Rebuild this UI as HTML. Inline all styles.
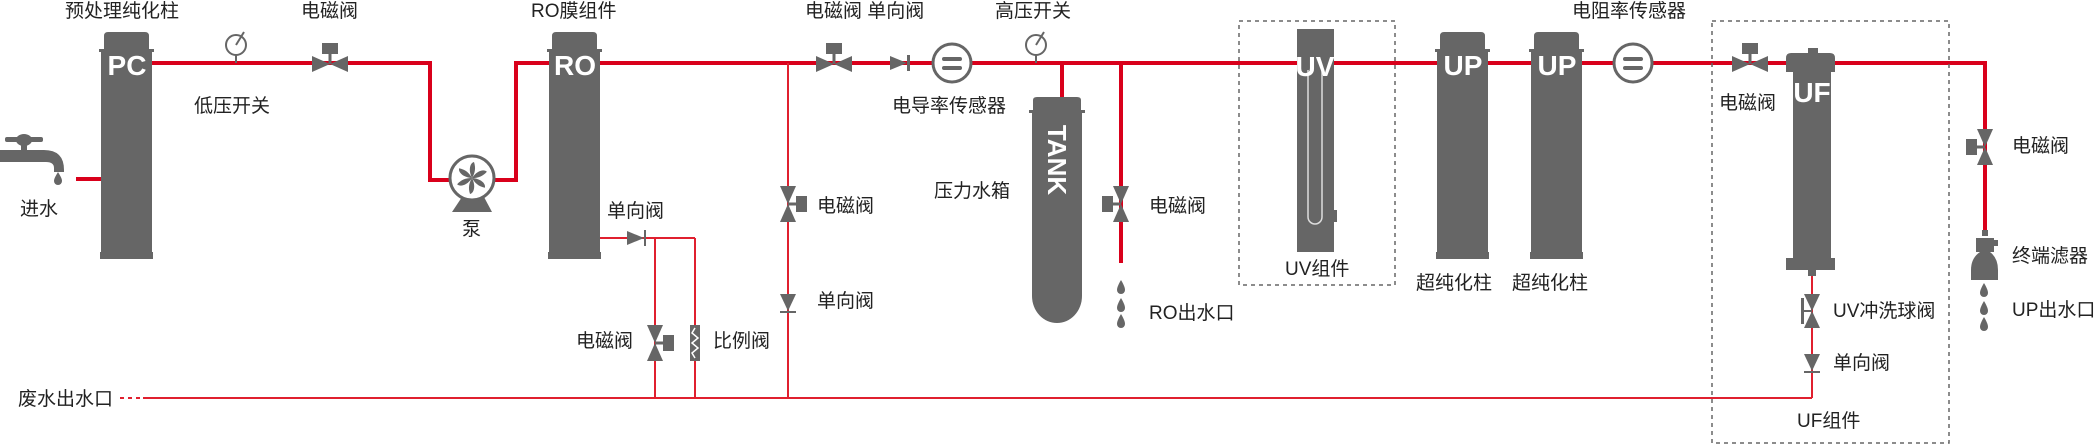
<!DOCTYPE html>
<html><head><meta charset="utf-8"><style>
html,body{margin:0;padding:0;background:#fff;}
svg{display:block;}
text{font-family:"Liberation Sans","Noto Sans CJK SC",sans-serif;}
.l{font-size:19px;fill:#222;}
.c{font-size:28px;font-weight:bold;fill:#fff;}
</style></head><body>
<svg width="2098" height="446" viewBox="0 0 2098 446" xmlns="http://www.w3.org/2000/svg">
<defs>
<g id="vh"><!-- horizontal valve with actuator on top -->
<polygon points="-18,-8 0,0 -18,8" fill="#666"/><polygon points="18,-8 0,0 18,8" fill="#666"/>
<rect x="-1.5" y="-12" width="3" height="12" fill="#666"/><rect x="-8" y="-21" width="16" height="11" fill="#666"/>
</g>
<g id="vv"><!-- vertical valve, actuator right -->
<polygon points="-8,-18 0,0 8,-18" fill="#666"/><polygon points="-8,18 0,0 8,18" fill="#666"/>
<rect x="0" y="-1.5" width="10" height="3" fill="#666"/><rect x="8" y="-8" width="11" height="16" fill="#666"/>
</g>
<g id="drop"><path d="M0,-7 C3,-2 4,1 4,3 A4,4 0 0 1 -4,3 C-4,1 -3,-2 0,-7Z" fill="#666"/></g>
<g id="gauge"><circle cx="0" cy="0" r="10" fill="#fff" stroke="#666" stroke-width="2"/><line x1="0" y1="0" x2="8" y2="-13" stroke="#666" stroke-width="2"/><line x1="0" y1="10" x2="0" y2="18" stroke="#666" stroke-width="2"/></g>
<g id="sensor"><circle cx="0" cy="0" r="19" fill="#fff" stroke="#666" stroke-width="3"/><rect x="-10" y="-6" width="20" height="4" rx="2" fill="#666"/><rect x="-10" y="3" width="20" height="4" rx="2" fill="#666"/></g>
<g id="col"><!-- column width 53, height 227, origin top-left -->
<path d="M4,18 L4,4 Q4,0 8,0 L45,0 Q49,0 49,4 L49,18Z" fill="#666"/>
<rect x="-1" y="17" width="55" height="3" fill="#666"/>
<rect x="1" y="20" width="51" height="205" fill="#666"/>
<rect x="0" y="220" width="53" height="7" fill="#666"/>
</g>
</defs>

<!-- main red pipes -->
<g stroke="#d9001b" stroke-width="4" fill="none">
<line x1="76" y1="179" x2="102" y2="179"/>
<polyline points="150,63 430,63 430,180 452,180"/>
<polyline points="494,180 516,180 516,63 552,63"/>
<line x1="598" y1="63" x2="1985" y2="63"/>
<polyline points="1983,63 1985,63 1985,232"/>
<line x1="1062" y1="63" x2="1062" y2="98"/>
<line x1="1121" y1="63" x2="1121" y2="263"/>
</g>
<!-- thin pipes -->
<g stroke="#e0202f" stroke-width="2" fill="none">
<line x1="600" y1="238" x2="695" y2="238"/>
<line x1="655" y1="238" x2="655" y2="398"/>
<line x1="695" y1="238" x2="695" y2="398"/>
<line x1="788" y1="63" x2="788" y2="398"/>
<line x1="143" y1="398" x2="1812" y2="398"/>
<line x1="1812" y1="270" x2="1812" y2="398"/>
<line x1="120" y1="398" x2="143" y2="398" stroke-dasharray="4,4"/>
</g>

<!-- faucet -->
<g fill="#666">
<ellipse cx="24" cy="140" rx="8" ry="6"/><rect x="5" y="137" width="38" height="5" rx="2"/>
<rect x="21" y="143" width="6" height="8"/>
<path d="M0,150 L44,150 Q64,150 64,170 L64,172 L54,172 L54,168 Q54,162 46,162 L0,162Z"/>
<path d="M58,172 C61,177 62,179 62,181 A4,4 0 0 1 54,181 C54,179 55,177 58,172Z"/>
</g>

<!-- columns -->
<use href="#col" x="100" y="32"/>
<use href="#col" x="548" y="32"/>
<use href="#col" x="1436" y="32"/>
<use href="#col" x="1530" y="32"/>
<text class="c" x="127" y="75" text-anchor="middle">PC</text>
<text class="c" x="575" y="75" text-anchor="middle">RO</text>
<text class="c" x="1463" y="75" text-anchor="middle">UP</text>
<text class="c" x="1557" y="75" text-anchor="middle">UP</text>

<!-- pump -->
<path d="M462,197 L484,197 L492,212 L452,212Z" fill="#666"/>
<circle cx="472" cy="178" r="22" fill="#fff" stroke="#666" stroke-width="3"/>
<g fill="#666" transform="translate(472,178)">
<path d="M0,0 C-4,-8 -2,-15 2,-16 C4,-10 3,-5 0,0Z"/>
<path d="M0,0 C-4,-8 -2,-15 2,-16 C4,-10 3,-5 0,0Z" transform="rotate(60)"/>
<path d="M0,0 C-4,-8 -2,-15 2,-16 C4,-10 3,-5 0,0Z" transform="rotate(120)"/>
<path d="M0,0 C-4,-8 -2,-15 2,-16 C4,-10 3,-5 0,0Z" transform="rotate(180)"/>
<path d="M0,0 C-4,-8 -2,-15 2,-16 C4,-10 3,-5 0,0Z" transform="rotate(240)"/>
<path d="M0,0 C-4,-8 -2,-15 2,-16 C4,-10 3,-5 0,0Z" transform="rotate(300)"/>
</g>

<!-- gauges -->
<use href="#gauge" x="236" y="45"/>
<use href="#gauge" x="1036" y="45"/>
<!-- sensors -->
<use href="#sensor" x="952" y="63"/>
<use href="#sensor" x="1633" y="63"/>

<!-- valves horizontal -->
<use href="#vh" x="330" y="64"/>
<use href="#vh" x="834" y="64"/>
<use href="#vh" x="1750" y="64"/>
<!-- check valve main -->
<polygon points="890,56 907,63 890,70" fill="#666"/><rect x="907" y="55" width="3" height="16" fill="#666"/>
<!-- check valve RO reject -->
<polygon points="627,231 644,238 627,245" fill="#666"/><rect x="644" y="230" width="2" height="16" fill="#666"/>

<!-- vertical valves -->
<use href="#vv" x="655" y="343"/>
<use href="#vv" x="788" y="204"/>
<use href="#vv" x="1121" y="204" transform="translate(2242,0) scale(-1,1)"/>
<use href="#vv" x="1985" y="147" transform="translate(3970,0) scale(-1,1)"/>
<!-- ratio valve -->
<rect x="690" y="325" width="10" height="36" fill="#666"/>
<polyline points="695,328 692,333 698,338 692,343 698,348 692,353 695,358" stroke="#fff" stroke-width="1.5" fill="none"/>
<!-- check valves downward -->
<polygon points="780,294 796,294 788,311" fill="#666"/><rect x="780" y="311" width="16" height="2" fill="#666"/>
<polygon points="1804,354 1820,354 1812,371" fill="#666"/><rect x="1804" y="371" width="16" height="2" fill="#666"/>
<!-- UV flush ball valve -->
<polygon points="1804,294 1820,294 1812,311" fill="#666"/><polygon points="1804,328 1820,328 1812,311" fill="#666"/>
<rect x="1801" y="298" width="3" height="26" fill="#666"/><rect x="1801" y="310" width="11" height="2" fill="#666"/>

<!-- tank -->
<path d="M1033,100 Q1033,97 1037,97 L1077,97 Q1081,97 1081,100 L1081,110 L1033,110Z" fill="#666"/>
<rect x="1029" y="110" width="56" height="3" fill="#666"/>
<path d="M1032,113 L1082,113 L1082,296 A25,27 0 0 1 1032,296Z" fill="#666"/>
<text x="1048" y="160" transform="rotate(90 1048 160)" font-size="26" font-weight="bold" fill="#fff" text-anchor="middle" style="font-family:'Liberation Sans',sans-serif">TANK</text>

<!-- UV -->
<rect x="1239" y="21" width="156" height="264" fill="none" stroke="#666" stroke-width="1.5" stroke-dasharray="4,4"/>
<rect x="1297" y="29" width="37" height="223" fill="#666"/>
<rect x="1333" y="210" width="4" height="12" fill="#666"/>
<path d="M1308,70 L1308,217 A7,7 0 0 0 1322,217 L1322,70" fill="none" stroke="#ddd" stroke-width="1.5"/>
<text class="c" x="1315" y="76" text-anchor="middle">UV</text>

<!-- UF -->
<rect x="1712" y="21" width="237" height="422" fill="none" stroke="#666" stroke-width="1.5" stroke-dasharray="4,4"/>
<rect x="1808" y="48" width="10" height="6" fill="#666"/>
<path d="M1786,72 L1786,58 Q1786,53 1791,53 L1830,53 Q1835,53 1835,58 L1835,72Z" fill="#666"/>
<rect x="1793" y="70" width="38" height="190" fill="#666"/>
<path d="M1786,258 L1835,258 L1835,270 L1786,270Z" fill="#666"/>
<rect x="1808" y="270" width="8" height="6" fill="#666"/>
<text class="c" x="1812" y="102" text-anchor="middle">UF</text>

<!-- terminal filter -->
<g fill="#666">
<rect x="1982" y="230" width="6" height="6"/>
<path d="M1976,238 L1994,238 L1994,252 L1976,252Z"/>
<rect x="1994" y="240" width="4" height="6"/>
<path d="M1980,252 L1990,252 Q1998,258 1998,270 L1998,280 L1971,280 L1971,270 Q1971,258 1980,252Z"/>
</g>

<!-- drops -->
<use href="#drop" x="1121" y="287"/><use href="#drop" x="1121" y="305"/><use href="#drop" x="1121" y="321"/>
<use href="#drop" x="1984" y="290"/><use href="#drop" x="1984" y="308"/><use href="#drop" x="1984" y="324"/>

<!-- labels -->
<g class="l">
<text x="65" y="17">预处理纯化柱</text>
<text x="301" y="17">电磁阀</text>
<text x="531" y="17">RO膜组件</text>
<text x="805" y="17">电磁阀 单向阀</text>
<text x="995" y="17">高压开关</text>
<text x="1572" y="17">电阻率传感器</text>
<text x="194" y="112">低压开关</text>
<text x="892" y="112">电导率传感器</text>
<text x="1719" y="109">电磁阀</text>
<text x="2012" y="152">电磁阀</text>
<text x="934" y="197">压力水箱</text>
<text x="817" y="212">电磁阀</text>
<text x="1149" y="212">电磁阀</text>
<text x="20" y="215">进水</text>
<text x="462" y="235">泵</text>
<text x="607" y="217">单向阀</text>
<text x="2012" y="262">终端滤器</text>
<text x="1285" y="275">UV组件</text>
<text x="1416" y="289">超纯化柱</text>
<text x="1512" y="289">超纯化柱</text>
<text x="817" y="307">单向阀</text>
<text x="1149" y="319">RO出水口</text>
<text x="1833" y="317">UV冲洗球阀</text>
<text x="2012" y="316">UP出水口</text>
<text x="576" y="347">电磁阀</text>
<text x="713" y="347">比例阀</text>
<text x="1833" y="369">单向阀</text>
<text x="18" y="405">废水出水口</text>
<text x="1797" y="427">UF组件</text>
</g>
</svg>
</body></html>
